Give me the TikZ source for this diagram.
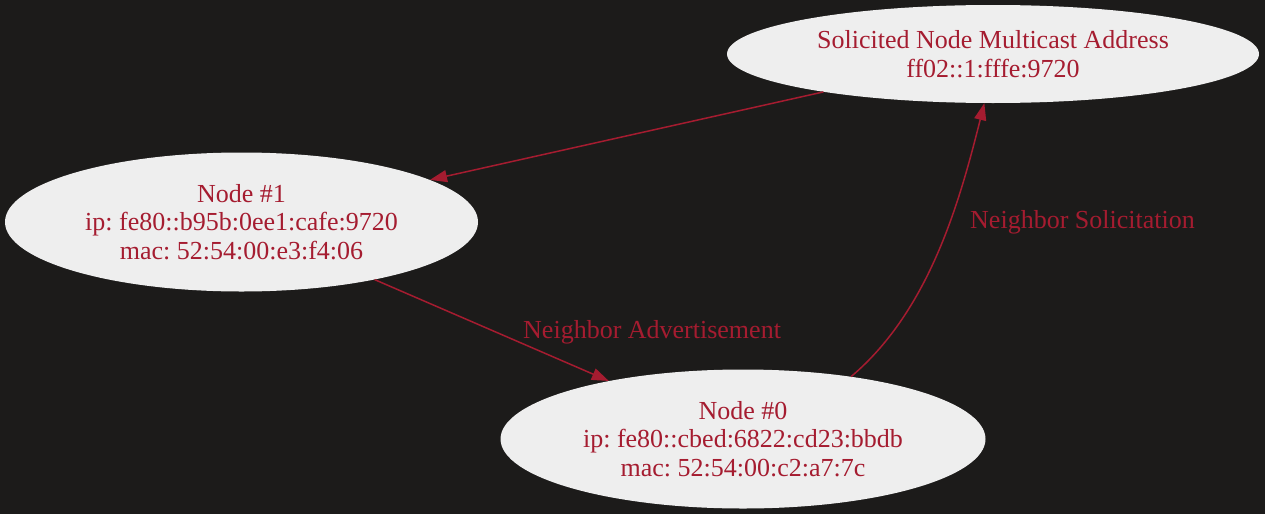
\documentclass[tikz,border=0pt]{standalone}
\usepackage{fontspec}
\setmainfont{Liberation Serif}
\frenchspacing
\usetikzlibrary{shapes.geometric,arrows.meta}
\definecolor{bgc}{HTML}{1C1B1A}
\definecolor{nodefill}{HTML}{EEEEEE}
\definecolor{crim}{HTML}{A51C30}
\tikzset{
  nodeell/.style={ellipse, fill=nodefill, draw=none, inner sep=0pt, align=center,
    text=crim, font=\fontsize{26}{28.5}\selectfont\frenchspacing},
  edgelabel/.style={text=crim, font=\fontsize{26}{28.5}\selectfont\frenchspacing, inner sep=0pt},
  conn/.style={draw=crim, line width=1.5pt, -{Triangle[length=17pt,width=12pt]}},
}
\begin{document}
\begin{tikzpicture}[x=1pt,y=-1pt]
  \fill[bgc] (0,0) rectangle (1265,514);
  \useasboundingbox (0,0) rectangle (1265,514);
  \node[nodeell, minimum width=532pt, minimum height=98pt] (snma) at (993,54)
    {Solicited Node Multicast Address\\ff02::1:fffe:9720};
  \node[nodeell, minimum width=473pt, minimum height=139pt] (n1) at (241.5,222)
    {Node \#1\\ip: fe80::b95b:0ee1:cafe:9720\\mac: 52:54:00:e3:f4:06};
  \node[nodeell, minimum width=485pt, minimum height=139pt] (n0) at (743,439)
    {Node \#0\\ip: fe80::cbed:6822:cd23:bbdb\\mac: 52:54:00:c2:a7:7c};
  \draw[conn] (snma) -- (n1);
  \draw[conn] (n1) -- (n0);
  \draw[conn] (n0.30.6) .. controls (930,310) and (960,200) .. (snma.260.5);
  \node[edgelabel, anchor=base west] (lna) at (523,338) {Neighbor Advertisement};
  \node[edgelabel, anchor=base west] (lns) at (970,228) {Neighbor Solicitation};
\end{tikzpicture}
\end{document}
